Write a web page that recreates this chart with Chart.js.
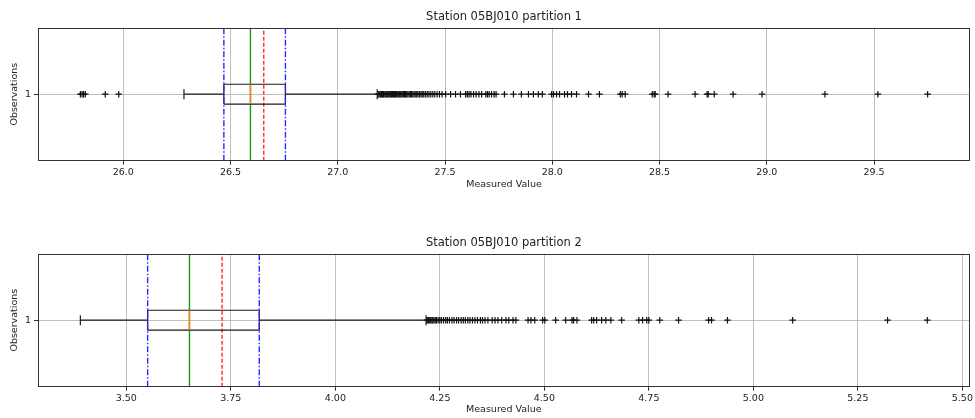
<!DOCTYPE html>
<html>
<head>
<meta charset="utf-8">
<script src="https://cdn.jsdelivr.net/npm/chart.js@4.4.1/dist/chart.umd.min.js"></script>
<style>
  html, body { margin: 0; padding: 0; background: #fff; }
  #wrap { position: relative; width: 975px; height: 418px; overflow: hidden; }
  canvas { position: absolute; left: 0; }
</style>
</head>
<body>
<div id="wrap">
  <canvas id="c1" width="975" height="193" style="top:0px"></canvas>
  <canvas id="c2" width="975" height="192" style="top:226px"></canvas>
</div>
<script>
// ---- Partition 1 ----
// box summary: lower whisker, Q1, median, Q3, upper whisker
const p1Box = [26.283, 26.469, 26.593, 26.756, 27.184];
const p1Mean = 26.655;
const p1Outliers = [
  25.800, 25.808, 25.815, 25.823, 25.916, 25.979,
  27.188, 27.192, 27.197, 27.201, 27.204, 27.209, 27.213, 27.216, 27.221, 27.226,
  27.229, 27.233, 27.238, 27.242, 27.247, 27.251, 27.255, 27.260, 27.264, 27.269,
  27.273, 27.277, 27.282, 27.287, 27.291, 27.296, 27.300, 27.306, 27.311, 27.316,
  27.322, 27.327, 27.333, 27.339, 27.344, 27.350, 27.356, 27.361, 27.368, 27.374,
  27.381, 27.388, 27.394, 27.401, 27.409, 27.417, 27.425, 27.434, 27.443, 27.452,
  27.463, 27.474, 27.486, 27.503, 27.526, 27.549, 27.572, 27.596, 27.604, 27.612,
  27.621, 27.633, 27.645, 27.658, 27.671, 27.690, 27.698, 27.706, 27.717, 27.729,
  27.738, 27.777, 27.819, 27.856, 27.889, 27.912, 27.935, 27.954, 27.997, 28.006,
  28.020, 28.034, 28.057, 28.071, 28.090, 28.113, 28.169, 28.220, 28.317, 28.326,
  28.340, 28.466, 28.475, 28.480, 28.540, 28.666, 28.722, 28.727, 28.755, 28.843,
  28.978, 29.271, 29.518, 29.750
];
const p1TickValues = [26.0, 26.5, 27.0, 27.5, 28.0, 28.5, 29.0, 29.5];
const p1TickLabels = ['26.0', '26.5', '27.0', '27.5', '28.0', '28.5', '29.0', '29.5'];

// ---- Partition 2 ----
const p2Box = [3.390, 3.551, 3.651, 3.818, 4.217];
const p2Mean = 3.729;
const p2Outliers = [
  4.219, 4.221, 4.223, 4.226, 4.228, 4.231, 4.233, 4.236, 4.239, 4.242,
  4.246, 4.250, 4.254, 4.259, 4.264, 4.268, 4.273, 4.279, 4.284, 4.290,
  4.295, 4.301, 4.306, 4.311, 4.317, 4.322, 4.328, 4.334, 4.340, 4.347,
  4.352, 4.358, 4.365, 4.375, 4.382, 4.389, 4.398, 4.408, 4.415, 4.425,
  4.432, 4.461, 4.468, 4.477, 4.496, 4.501, 4.527, 4.551, 4.566, 4.570,
  4.578, 4.613, 4.618, 4.625, 4.637, 4.647, 4.659, 4.685, 4.726, 4.735,
  4.745, 4.750, 4.776, 4.821, 4.893, 4.900, 4.938, 5.094, 5.321, 5.416
];
const p2TickValues = [3.50, 3.75, 4.00, 4.25, 4.50, 4.75, 5.00, 5.25, 5.50];
const p2TickLabels = ['3.50', '3.75', '4.00', '4.25', '4.50', '4.75', '5.00', '5.25', '5.50'];

const yTickLabels = ['1'];

// ---- shared styling ----
const FONT = "'DejaVu Sans', sans-serif";
Chart.defaults.font.family = FONT;
const TEXT = '#222';
const GRID = '#b0b0b0';
const SPINE = '#333';
const BOX_HALF = 0.075;   // half of box thickness (y units)
const CAP_HALF = 0.0375;  // half of whisker cap length
const REF_W = 1.4;        // width of the vertical reference lines
const AREA_TOP = 27.7;    // top of the plotting area inside each canvas

// strokes a full rectangle around the plotting area and writes the
// panel title centred over it
const framePlugin = {
  id: 'frame',
  afterDatasetsDraw(chart, args, opts) {
    const a = chart.chartArea, ctx = chart.ctx;
    ctx.save();
    ctx.strokeStyle = SPINE;
    ctx.lineWidth = 1;
    ctx.strokeRect(Math.round(a.left) + 0.5, Math.round(a.top) + 0.5,
                   Math.round(a.right - a.left) - 1, Math.round(a.bottom - a.top) - 1);
    ctx.fillStyle = TEXT;
    ctx.font = '11.5px ' + FONT;
    ctx.textAlign = 'center';
    ctx.textBaseline = 'middle';
    ctx.fillText(opts.text, (a.left + a.right) / 2, 17);
    ctx.restore();
  }
};

function seg(points, color, width, dash, order) {
  return {
    data: points, showLine: true, borderColor: color, borderWidth: width,
    borderDash: dash || [], pointRadius: 0, pointHoverRadius: 0, fill: false,
    tension: 0, order: order
  };
}

function buildPanel(id, title, box, mean, outliers, tickValues, tickLabels, areaBottom) {
  const [wLo, q1, med, q3, wHi] = box;
  const all = outliers.concat([wLo, wHi]);
  const lo = Math.min(...all), hi = Math.max(...all);
  const pad = 0.05 * (hi - lo);
  const canvas = document.getElementById(id);

  const datasets = [
    // quartile markers
    seg([{x: q1, y: 0.5}, {x: q1, y: 1.5}], 'rgb(40,40,255)', REF_W, [6, 2, 1.5, 2], 0),
    seg([{x: q3, y: 0.5}, {x: q3, y: 1.5}], 'rgb(40,40,255)', REF_W, [6, 2, 1.5, 2], 0),
    // median bar inside the box
    seg([{x: med, y: 1 - BOX_HALF}, {x: med, y: 1 + BOX_HALF}], '#ff7f0e', REF_W, [], 1),
    // box outline
    seg([{x: q1, y: 1 - BOX_HALF}, {x: q3, y: 1 - BOX_HALF}, {x: q3, y: 1 + BOX_HALF},
         {x: q1, y: 1 + BOX_HALF}, {x: q1, y: 1 - BOX_HALF}], '#1a1a1a', 1.2, [], 2),
    // whiskers and caps
    seg([{x: wLo, y: 1}, {x: q1, y: 1}], '#1a1a1a', 1.2, [], 3),
    seg([{x: q3, y: 1}, {x: wHi, y: 1}], '#1a1a1a', 1.2, [], 3),
    seg([{x: wLo, y: 1 - CAP_HALF}, {x: wLo, y: 1 + CAP_HALF}], '#1a1a1a', 1.2, [], 3),
    seg([{x: wHi, y: 1 - CAP_HALF}, {x: wHi, y: 1 + CAP_HALF}], '#1a1a1a', 1.2, [], 3),
    // fliers
    {
      data: outliers.map(v => ({x: v, y: 1})), showLine: false,
      pointStyle: 'cross', pointRadius: 3.3, pointHoverRadius: 3.3,
      pointBorderColor: '#111', pointBackgroundColor: '#111', pointBorderWidth: 1.2, order: 3
    },
    // mean and median reference lines
    seg([{x: mean, y: 0.5}, {x: mean, y: 1.5}], 'rgb(255,40,40)', REF_W, [4, 2], 4),
    seg([{x: med, y: 0.5}, {x: med, y: 1.5}], 'rgb(30,150,30)', REF_W, [], 5)
  ];

  return new Chart(canvas, {
    type: 'scatter',
    data: { datasets },
    plugins: [framePlugin],
    options: {
      responsive: false,
      animation: false,
      events: [],
      layout: { padding: { left: 0, right: 5, top: AREA_TOP, bottom: 0 } },
      plugins: {
        legend: { display: false },
        tooltip: { enabled: false },
        title: { display: false },
        frame: { text: title }
      },
      scales: {
        x: {
          type: 'linear', min: lo - pad, max: hi + pad,
          afterBuildTicks: s => { s.ticks = tickValues.map(v => ({ value: v })); },
          afterFit: s => { s.height = canvas.height - areaBottom; },
          ticks: {
            callback: (v, i) => tickLabels[i], autoSkip: false, maxRotation: 0,
            color: TEXT, font: { size: 9.5 }, padding: 2
          },
          grid: { color: GRID, lineWidth: 0.8, tickLength: 4, tickColor: SPINE, tickWidth: 1 },
          border: { display: false },
          title: {
            display: true, text: 'Measured Value', color: TEXT,
            font: { size: 9.5 }, padding: { top: 0, bottom: 2.3 }
          }
        },
        y: {
          type: 'linear', min: 0.5, max: 1.5,
          afterBuildTicks: s => { s.ticks = [{ value: 1 }]; },
          afterFit: s => { s.width = 38; },
          ticks: {
            callback: (v, i) => yTickLabels[i], color: TEXT, font: { size: 9.5 }, padding: 3
          },
          grid: { color: GRID, lineWidth: 0.8, tickLength: 4, tickColor: SPINE, tickWidth: 1 },
          border: { display: false },
          title: {
            display: true, text: 'Observations', color: TEXT,
            font: { size: 9.5 }, padding: { top: 9, bottom: 0 }
          }
        }
      }
    }
  });
}

buildPanel('c1', 'Station 05BJ010 partition 1', p1Box, p1Mean, p1Outliers,
           p1TickValues, p1TickLabels, 160.7);
buildPanel('c2', 'Station 05BJ010 partition 2', p2Box, p2Mean, p2Outliers,
           p2TickValues, p2TickLabels, 160.7);
</script>
</body>
</html>
